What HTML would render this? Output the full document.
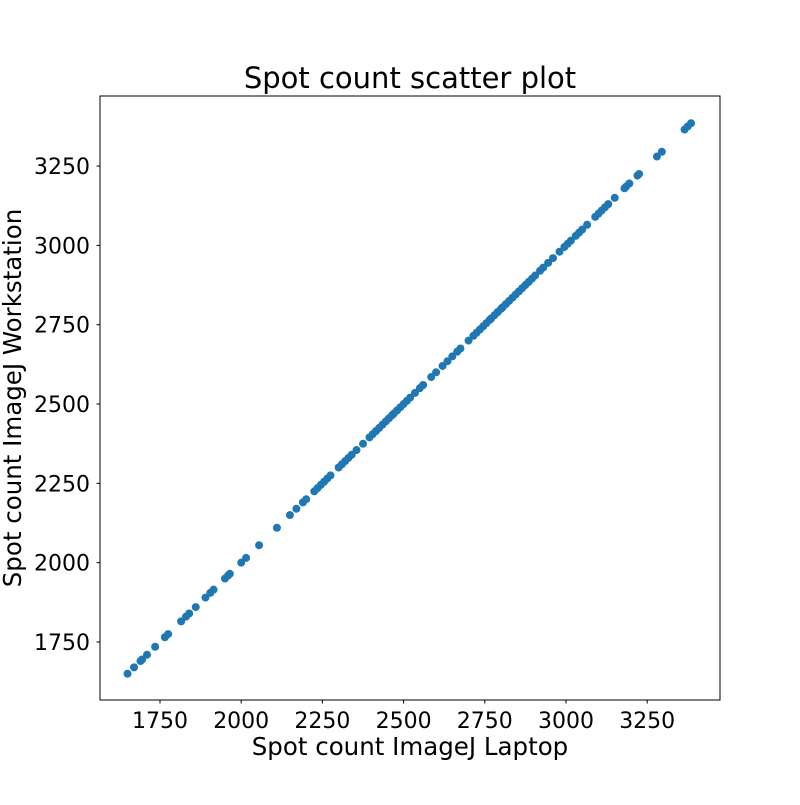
<!DOCTYPE html>
<html><head><meta charset="utf-8"><style>
body{margin:0;background:#fff;}
svg text{font-family:"DejaVu Sans","Liberation Sans",sans-serif;fill:#000;}
</style></head><body>
<svg id="chart" width="800" height="800">
<rect width="800" height="800" fill="#fff"/>
<text x="410" y="88" font-size="29" text-anchor="middle">Spot count scatter plot</text>
<g id="marks"></g>
<rect x="100" y="96" width="620" height="604" fill="none" stroke="#000" stroke-width="1"/>
<g id="xt"></g>
<g id="yt"></g>
<text x="410" y="755" font-size="24.5" text-anchor="middle">Spot count ImageJ Laptop</text>
<text transform="translate(21,398) rotate(-90)" font-size="24.5" text-anchor="middle">Spot count ImageJ Workstation</text>
</svg>
<script>
const xValues=[1650,1670,1690,1695,1710,1735,1765,1775,1815,1830,1840,1860,1890,1905,1915,1950,1960,1965,2000,2015,2055,2110,2150,2170,2190,2200,2225,2235,2245,2255,2265,2275,2300,2310,2320,2330,2340,2355,2375,2395,2405,2415,2425,2435,2445,2455,2465,2470,2480,2490,2500,2510,2520,2535,2550,2560,2585,2600,2620,2635,2650,2665,2675,2700,2715,2725,2735,2745,2755,2765,2770,2780,2790,2800,2805,2815,2825,2835,2845,2855,2865,2875,2885,2895,2905,2920,2930,2945,2960,2980,2995,3005,3015,3030,3040,3050,3065,3090,3100,3110,3120,3130,3150,3180,3185,3195,3220,3225,3280,3295,3365,3375,3385];
const yValues=xValues.slice();
const xTicks=[1750,2000,2250,2500,2750,3000,3250];
const yTicks=[1750,2000,2250,2500,2750,3000,3250];
const NS="http://www.w3.org/2000/svg";
function sx(v){return 160+(v-1750)*0.3248;}
function sy(v){return 642-(v-1750)*0.3173;}
const marks=document.getElementById('marks');
xValues.forEach((x,i)=>{
  const c=document.createElementNS(NS,'circle');
  c.setAttribute('cx',sx(x));c.setAttribute('cy',sy(yValues[i]));c.setAttribute('r',4);c.setAttribute('fill','#1f77b4');
  
  
  marks.appendChild(c);
});
const xt=document.getElementById('xt');
xTicks.forEach(t=>{
  const l=document.createElementNS(NS,'line');
  l.setAttribute('x1',sx(t));l.setAttribute('x2',sx(t));l.setAttribute('y1',700);l.setAttribute('y2',703.5);l.setAttribute('stroke','#000');
  
  
  xt.appendChild(l);
  const tx=document.createElementNS(NS,'text');
  tx.setAttribute('x',sx(t));tx.setAttribute('y',728);tx.setAttribute('font-size','22');tx.setAttribute('text-anchor','middle');tx.textContent=t;
  
  
  xt.appendChild(tx);
});
const yt=document.getElementById('yt');
yTicks.forEach(t=>{
  const l=document.createElementNS(NS,'line');
  l.setAttribute('x1',96.5);l.setAttribute('x2',100);l.setAttribute('y1',sy(t));l.setAttribute('y2',sy(t));l.setAttribute('stroke','#000');
  
  
  yt.appendChild(l);
  const tx=document.createElementNS(NS,'text');
  tx.setAttribute('x',90);tx.setAttribute('y',sy(t)+8);tx.setAttribute('font-size','22');tx.setAttribute('text-anchor','end');tx.textContent=t;
  
  
  yt.appendChild(tx);
});
</script>
</body></html>
